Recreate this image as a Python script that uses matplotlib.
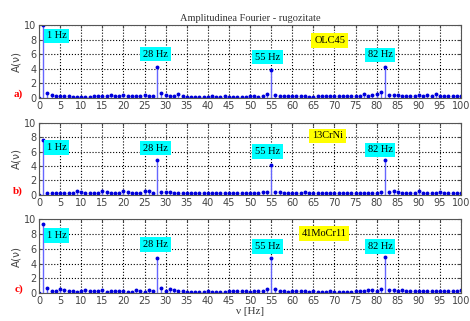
import matplotlib.pyplot as plt
import numpy as np

freq = list(range(0, 101))

# amplitude spectra (0..100 Hz)
amp_a = [0.0, 10.0, 0.7, 0.4, 0.3, 0.3, 0.2, 0.2, 0.15, 0.15,
         0.1, 0.15, 0.15, 0.2, 0.3, 0.2, 0.2, 0.4, 0.3, 0.3,
         0.4, 0.2, 0.2, 0.2, 0.2, 0.4, 0.3, 0.3, 4.3, 0.7,
         0.4, 0.3, 0.3, 0.5, 0.2, 0.15, 0.15, 0.15, 0.15, 0.15,
         0.15, 0.2, 0.15, 0.15, 0.2, 0.15, 0.15, 0.15, 0.15, 0.15,
         0.2, 0.2, 0.15, 0.3, 0.5, 3.8, 0.4, 0.2, 0.2, 0.2,
         0.2, 0.2, 0.2, 0.2, 0.15, 0.15, 0.2, 0.2, 0.2, 0.2,
         0.2, 0.2, 0.2, 0.2, 0.2, 0.2, 0.3, 0.5, 0.3, 0.4,
         0.6, 0.8, 4.3, 0.4, 0.4, 0.4, 0.3, 0.3, 0.2, 0.3,
         0.4, 0.3, 0.4, 0.3, 0.5, 0.3, 0.3, 0.3, 0.2, 0.2, 0.2]
amp_b = [0.0, 7.6, 0.3, 0.3, 0.3, 0.2, 0.2, 0.3, 0.3, 0.5,
         0.4, 0.2, 0.2, 0.3, 0.3, 0.5, 0.4, 0.3, 0.3, 0.3,
         0.6, 0.4, 0.3, 0.3, 0.3, 0.5, 0.5, 0.3, 4.8, 0.4,
         0.4, 0.4, 0.3, 0.3, 0.3, 0.2, 0.3, 0.3, 0.2, 0.3,
         0.3, 0.2, 0.3, 0.3, 0.2, 0.3, 0.2, 0.3, 0.2, 0.3,
         0.2, 0.2, 0.3, 0.4, 0.4, 4.2, 0.4, 0.4, 0.3, 0.2,
         0.2, 0.3, 0.3, 0.4, 0.2, 0.2, 0.2, 0.3, 0.2, 0.2,
         0.3, 0.2, 0.2, 0.3, 0.2, 0.3, 0.3, 0.2, 0.3, 0.3,
         0.3, 0.4, 4.9, 0.4, 0.5, 0.4, 0.3, 0.3, 0.3, 0.3,
         0.5, 0.3, 0.3, 0.3, 0.3, 0.4, 0.3, 0.3, 0.2, 0.2, 0.3]
amp_c = [0.0, 9.4, 0.7, 0.3, 0.3, 0.5, 0.4, 0.3, 0.3, 0.2,
         0.3, 0.4, 0.3, 0.3, 0.3, 0.4, 0.2, 0.3, 0.3, 0.3,
         0.3, 0.2, 0.2, 0.4, 0.3, 0.2, 0.4, 0.3, 4.8, 0.7,
         0.3, 0.5, 0.4, 0.3, 0.3, 0.2, 0.2, 0.2, 0.2, 0.2,
         0.3, 0.2, 0.2, 0.2, 0.2, 0.3, 0.3, 0.3, 0.3, 0.3,
         0.2, 0.3, 0.3, 0.3, 0.5, 4.7, 0.5, 0.3, 0.3, 0.2,
         0.3, 0.3, 0.3, 0.3, 0.2, 0.3, 0.2, 0.2, 0.2, 0.3,
         0.2, 0.2, 0.2, 0.2, 0.2, 0.3, 0.3, 0.3, 0.4, 0.4,
         0.3, 0.6, 4.9, 0.4, 0.4, 0.3, 0.4, 0.3, 0.3, 0.3,
         0.3, 0.3, 0.3, 0.3, 0.3, 0.3, 0.3, 0.3, 0.3, 0.3, 0.4]

materials = ["OLC45", "13CrNi", "41MoCr11"]
letters = ["a)", "b)", "c)"]
peak_labels = ["1 Hz", "28 Hz", "55 Hz", "82 Hz"]
# label anchor (left x, center y) in data units, per panel
peak_pos = [
    [(1.8, 8.5), (24.6, 6.0), (51.2, 5.6), (77.9, 5.9)],
    [(1.8, 6.6), (24.6, 6.5), (51.2, 6.0), (77.9, 6.25)],
    [(1.8, 7.8), (24.6, 6.6), (51.2, 6.35), (77.9, 6.35)],
]
mat_pos = [(65.2, 7.9), (64.7, 8.2), (62.2, 8.1)]
spectra = [amp_a, amp_b, amp_c]

fig = plt.figure(figsize=(4.7, 3.21), dpi=100)
rects = [[0.083, 0.695, 0.898, 0.227],
         [0.083, 0.393, 0.898, 0.224],
         [0.083, 0.087, 0.898, 0.230]]

serif = ["Liberation Serif", "DejaVu Serif"]

for i in range(3):
    ax = fig.add_axes(rects[i])
    ml, sl, bl = ax.stem(freq, spectra[i], basefmt=" ")
    plt.setp(sl, color="#6666ff", linewidth=1.0)
    plt.setp(ml, color="#0000dd", markersize=1.8)
    ax.set_xlim(0, 100)
    ax.set_ylim(0, 10)
    ax.set_xticks(range(0, 101, 5))
    ax.set_yticks(range(0, 11, 2))
    ax.grid(True, linestyle=":", color="black", linewidth=0.8)
    ax.tick_params(labelsize=7, colors="#444444", length=2, direction="in",
                   top=True, right=True, pad=2)
    for s in ax.spines.values():
        s.set_color("#555555")
    ax.set_ylabel("A(\u03bd)", fontsize=7.5, color="#444444", labelpad=2,
                  family="DejaVu Sans")
    ax.text(-0.038, 0.05, letters[i], transform=ax.transAxes, color="red",
            fontsize=8, family=serif, fontweight="bold", ha="right", va="center")
    for lab, (x, y) in zip(peak_labels, peak_pos[i]):
        ax.text(x, y, lab, fontsize=7.5, family=serif, va="center", ha="left",
                bbox=dict(facecolor="#00ffff", edgecolor="none", pad=2))
    ax.text(mat_pos[i][0], mat_pos[i][1], materials[i], fontsize=7.5, family=serif,
            va="center", ha="left",
            bbox=dict(facecolor="#ffff00", edgecolor="none", pad=2))
    if i == 0:
        ax.set_title("Amplitudinea Fourier - rugozitate", fontsize=7.5,
                     family=serif, color="#333333", pad=3)
    if i == 2:
        ax.set_xlabel("\u03bd [Hz]", fontsize=8, family=serif, color="#333333",
                      labelpad=1)

fig.savefig("out.png", dpi=100)
